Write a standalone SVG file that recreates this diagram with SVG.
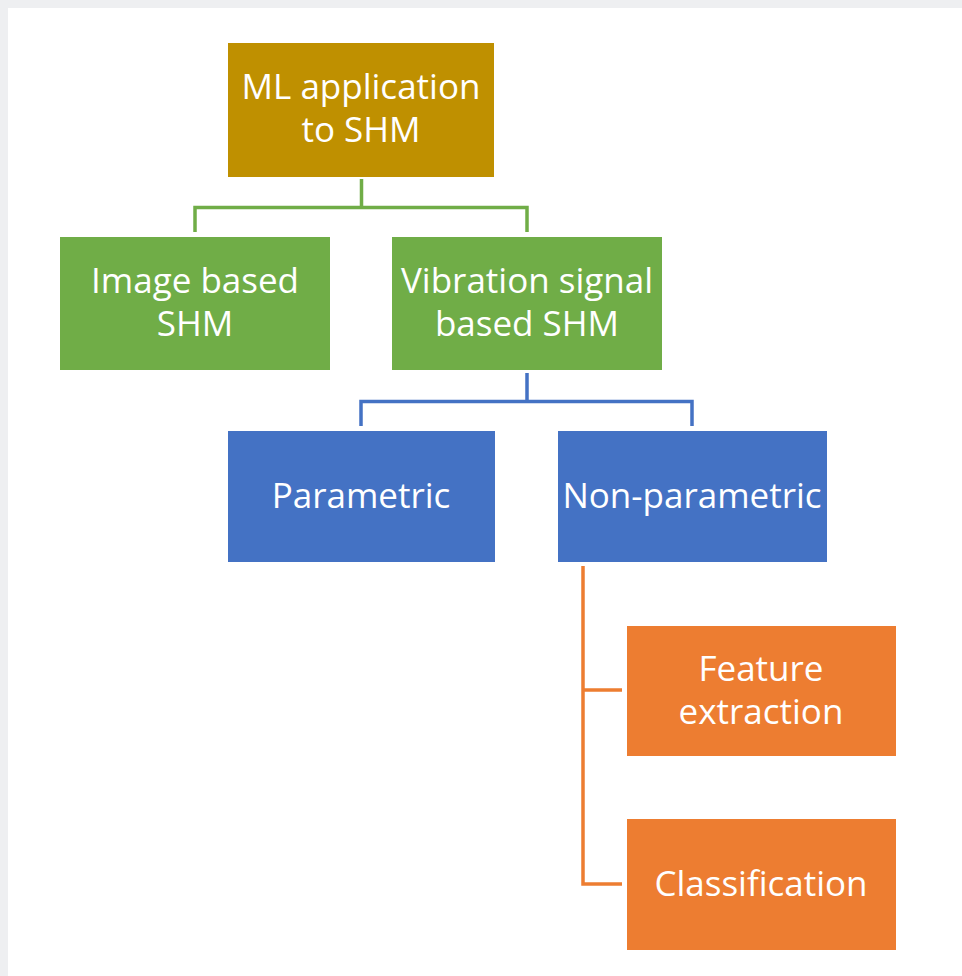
<svg xmlns="http://www.w3.org/2000/svg" width="962" height="976" viewBox="0 0 962 976">
<style>
.t{font-family:"Open Sans","Liberation Sans",sans-serif;font-size:35px;fill:#fff;text-anchor:middle}
.c{fill:none;stroke-width:3.5}
</style>
<rect width="962" height="976" fill="#eeeff1"/>
<rect x="8" y="8" width="954" height="968" fill="#fff"/>
<g id="connectors">
<path class="c" stroke="#70ad47" d="M361.5 179V207.5M195 232V207.5H527V232"/>
<path class="c" stroke="#4472c4" d="M527 373V401.5M361 426V401.5H692V426"/>
<path class="c" stroke="#ed7d31" d="M583 566V884H622M583 690H622"/>
</g>
<g id="root"><rect x="228" y="43" width="266" height="134" fill="#bf9000"/>
<text class="t" x="361" y="99">ML application</text><text class="t" x="361" y="142">to SHM</text></g>
<g id="image"><rect x="60" y="237" width="270" height="133" fill="#70ad47"/>
<text class="t" x="195" y="293">Image based</text><text class="t" x="195" y="336">SHM</text></g>
<g id="vibration"><rect x="392" y="237" width="270" height="133" fill="#70ad47"/>
<text class="t" x="527" y="293">Vibration signal</text><text class="t" x="527" y="336">based SHM</text></g>
<g id="parametric"><rect x="228" y="431" width="267" height="131" fill="#4472c4"/>
<text class="t" x="361" y="508">Parametric</text></g>
<g id="nonparametric"><rect x="558" y="431" width="269" height="131" fill="#4472c4"/>
<text class="t" x="692" y="508">Non-parametric</text></g>
<g id="feature"><rect x="627" y="626" width="269" height="130" fill="#ed7d31"/>
<text class="t" x="761" y="681">Feature</text><text class="t" x="761" y="724">extraction</text></g>
<g id="classification"><rect x="627" y="819" width="269" height="131" fill="#ed7d31"/>
<text class="t" x="761" y="896">Classification</text></g>
</svg>
